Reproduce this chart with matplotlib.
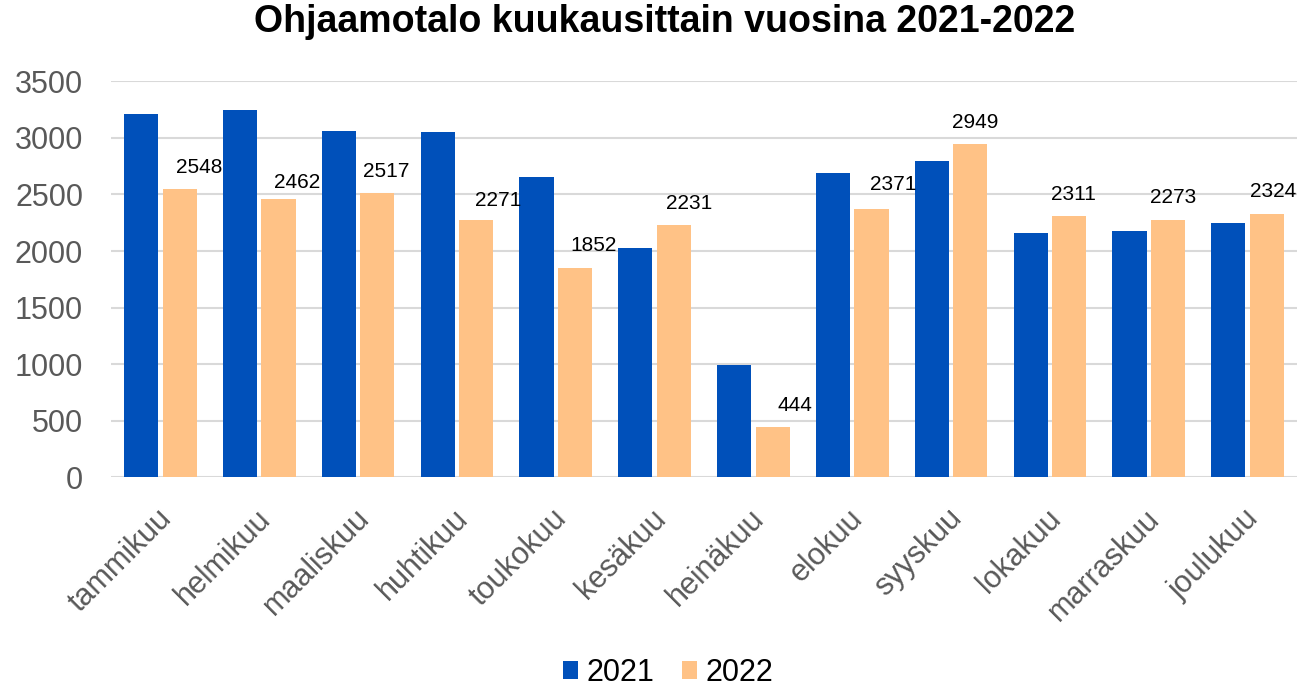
import numpy as np
import matplotlib
matplotlib.use("Agg")
from matplotlib import pyplot as plt
from matplotlib.transforms import ScaledTranslation

months = ["tammikuu", "helmikuu", "maaliskuu", "huhtikuu", "toukokuu", "kesäkuu",
          "heinäkuu", "elokuu", "syyskuu", "lokakuu", "marraskuu", "joulukuu"]
v2021 = [3214, 3244, 3061, 3055, 2657, 2024, 995, 2687, 2793, 2162, 2174, 2250]
v2022 = [2548, 2462, 2517, 2271, 1852, 2231, 444, 2371, 2949, 2311, 2273, 2324]

# label nudges in pixels (x from bar centre, y gap above bar top)
lab_dx = [19, 19, 9, 22, 19, 15, 22, 22, 5, 4, 5, 6]
lab_dy = [16, 11, 16, 14, 17, 16, 16, 19, 16, 16, 17, 17]

BLUE = "#0050BA"
ORANGE = "#FFC286"
GRAY = "#595959"

plt.rcParams['font.family'] = ['Liberation Sans', 'DejaVu Sans']

fig = plt.figure(figsize=(12.99, 6.87), dpi=100)
ax = fig.add_axes([111/1299, 1 - 477.3/687, (1297-111)/1299, (477.3-81.3)/687])

x = np.arange(len(months))
w = 0.345
off = 0.195
ax.bar(x - off, v2021, w, color=BLUE, label="2021", zorder=3)
ax.bar(x + off, v2022, w, color=ORANGE, label="2022", zorder=3)

for i, v in enumerate(v2022):
    ax.annotate(str(v), (x[i] + off, v), xytext=(lab_dx[i], lab_dy[i]),
                textcoords='offset pixels', ha='center', va='baseline',
                fontsize=15, color='black', zorder=4)

ax.set_xlim(-0.5, len(months) - 0.5)
ax.set_ylim(0, 3500)
ax.set_yticks(np.arange(0, 3501, 500))
ax.grid(axis='y', color='#d9d9d9', linewidth=1.5, zorder=0)
for s in ax.spines.values():
    s.set_visible(False)
ax.tick_params(axis='y', length=0, pad=20, labelsize=22, labelcolor=GRAY)
ax.tick_params(axis='x', length=0, pad=0, labelsize=22, labelcolor=GRAY)

ax.set_xticks(x)
ax.set_xticklabels(months, rotation=45, ha='right', va='top', rotation_mode='anchor')
shift = ScaledTranslation(-4/100, -26/100, fig.dpi_scale_trans)
for lab in ax.get_xticklabels():
    lab.set_transform(lab.get_transform() + shift)

fig.text(665/1299, 1 - 22/687, "Ohjaamotalo kuukausittain vuosina 2021-2022",
         ha='center', va='center', fontsize=27, fontweight='bold')

fig.legend(loc='center', bbox_to_anchor=(668/1299, 1 - 673/687), ncol=2,
           frameon=False, fontsize=22, handlelength=0.5, handleheight=0.5,
           handletextpad=0.28, columnspacing=0.9, borderaxespad=0)

fig.savefig("out.png", dpi=100)
